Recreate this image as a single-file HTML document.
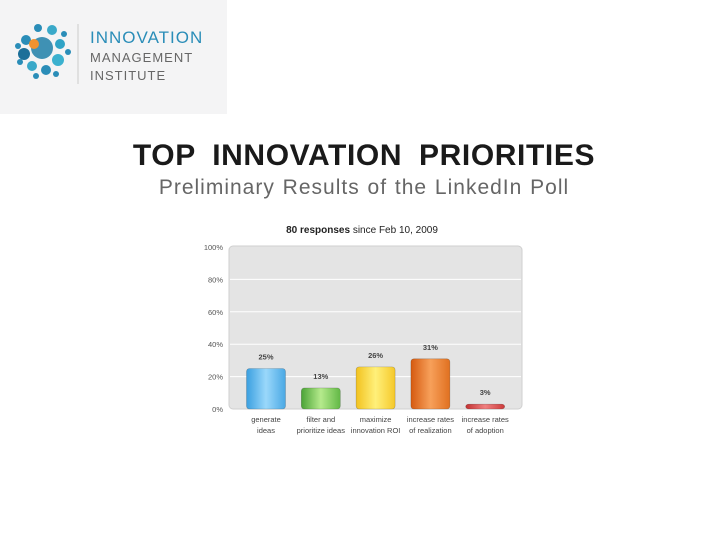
<!DOCTYPE html>
<html><head><meta charset="utf-8"><style>
body{margin:0;width:728px;height:546px;background:#fff;position:relative;overflow:hidden;font-family:"Liberation Sans",sans-serif}
.abs{position:absolute}
</style></head><body>
<div class="abs" style="left:0;top:0;width:227px;height:114px;background:#f4f4f5">
<svg width="227" height="114">
<g fill="#2a8db8">
<circle cx="42" cy="48" r="11" fill="#1f7fa8" opacity=".85"/>
<circle cx="26" cy="40" r="5"/><circle cx="24" cy="54" r="6" fill="#1c6f99"/>
<circle cx="32" cy="66" r="5" fill="#3aa9c9"/><circle cx="46" cy="70" r="5"/>
<circle cx="58" cy="60" r="6" fill="#3bb1cf"/><circle cx="60" cy="44" r="5" fill="#2fa3c6"/>
<circle cx="52" cy="30" r="5" fill="#3aa9c9"/><circle cx="38" cy="28" r="4"/>
<circle cx="64" cy="34" r="3"/><circle cx="18" cy="46" r="3"/><circle cx="20" cy="62" r="3"/>
<circle cx="68" cy="52" r="3"/><circle cx="56" cy="74" r="3"/><circle cx="36" cy="76" r="3"/>
</g>
<circle cx="34" cy="44" r="5" fill="#f0922f"/>
<line x1="78" y1="24" x2="78" y2="84" stroke="#ccc"/>
<text x="90" y="43" font-size="17" fill="#2a8db8" letter-spacing="1">INNOVATION</text>
<text x="90" y="62" font-size="13" fill="#666" letter-spacing="1">MANAGEMENT</text>
<text x="90" y="80" font-size="13" fill="#666" letter-spacing="1">INSTITUTE</text>
</svg></div>
<div class="abs" style="left:0;width:728px;top:139px;text-align:center;font-size:30px;font-weight:bold;color:#1a1a1a;word-spacing:8px;letter-spacing:0.6px">TOP INNOVATION PRIORITIES</div>
<div class="abs" style="left:0;width:728px;top:176px;text-align:center;font-size:21px;color:#666;letter-spacing:1px;word-spacing:1px">Preliminary Results of the LinkedIn Poll</div>
<svg class="abs" style="left:0;top:0" width="728" height="546" id="chart">
<defs>
<linearGradient id="gb" x1="0" x2="1"><stop offset="0" stop-color="#3a9fe0"/><stop offset=".5" stop-color="#9ad8fb"/><stop offset="1" stop-color="#4aa8e4"/></linearGradient>
<linearGradient id="gg" x1="0" x2="1"><stop offset="0" stop-color="#4aa336"/><stop offset=".5" stop-color="#b5ea8c"/><stop offset="1" stop-color="#62b846"/></linearGradient>
<linearGradient id="gy" x1="0" x2="1"><stop offset="0" stop-color="#f2c21f"/><stop offset=".5" stop-color="#fff07a"/><stop offset="1" stop-color="#f5c82a"/></linearGradient>
<linearGradient id="go" x1="0" x2="1"><stop offset="0" stop-color="#d55a10"/><stop offset=".5" stop-color="#f7a05a"/><stop offset="1" stop-color="#e07020"/></linearGradient>
<linearGradient id="gr" x1="0" x2="1"><stop offset="0" stop-color="#c23030"/><stop offset=".5" stop-color="#f08080"/><stop offset="1" stop-color="#cc3a3a"/></linearGradient>
</defs>
<text x="362" y="233" text-anchor="middle" font-size="10" fill="#222"><tspan font-weight="bold">80 responses</tspan> since Feb 10, 2009</text>
<rect x="229" y="246" width="293" height="163" rx="4" fill="#e4e4e4" stroke="#cfcfcf"/>
<g id="g"></g>
</svg>
<script>
const categories=[["generate","ideas"],["filter and","prioritize ideas"],["maximize","innovation ROI"],["increase rates","of realization"],["increase rates","of adoption"]];
const values=[25,13,26,31,3];
const ticks=[0,20,40,60,80,100];
const fills=["url(#gb)","url(#gg)","url(#gy)","url(#go)","url(#gr)"];
const NS="http://www.w3.org/2000/svg",g=document.getElementById('g');
const y=v=>409-v*162/100, xc=i=>266+i*54.8;
function el(t,a,txt){const e=document.createElementNS(NS,t);for(const k in a)e.setAttribute(k,a[k]);if(txt!=null)e.textContent=txt;g.appendChild(e);return e;}
ticks.forEach(t=>{
 if(t>0&&t<100){const l=el('line',{x1:230,x2:521,y1:y(t),y2:y(t),stroke:'#fff'});
 
 }
 const tx=el('text',{x:223,y:y(t)+3,'text-anchor':'end','font-size':7.5,fill:'#555'},t+'%');
 
 
});
values.forEach((v,i)=>{
 const r=el('rect',{x:xc(i)-19.5,y:y(v),width:39,height:409-y(v),rx:3,fill:fills[i],stroke:'rgba(0,0,0,0.25)','stroke-width':0.6});
 
 
 const t=el('text',{x:xc(i),y:y(v)-9,'text-anchor':'middle','font-size':7.5,'font-weight':'bold',fill:'#444'},v+'%');
 
 
 categories[i].forEach((s,j)=>{
  const c=el('text',{x:xc(i),y:422+j*11,'text-anchor':'middle','font-size':7.5,fill:'#444'},s);
  
  
 });
});
</script>
</body></html>
